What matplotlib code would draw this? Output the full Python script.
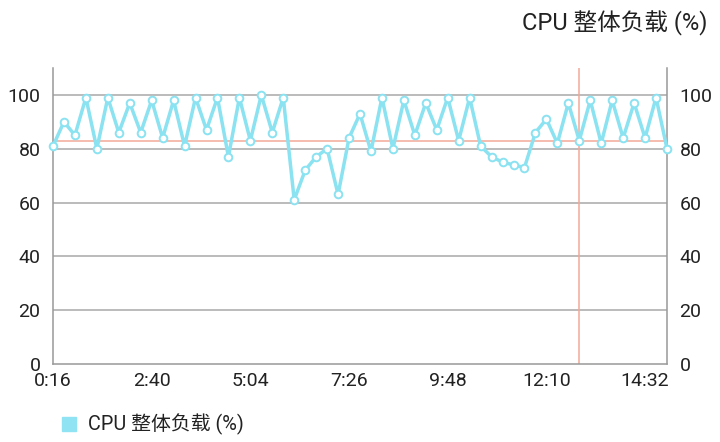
import matplotlib
matplotlib.use('Agg')
import matplotlib.pyplot as plt
from matplotlib.patches import Rectangle

plt.rcParams['font.family'] = ['Roboto', 'Noto Sans CJK SC', 'DejaVu Sans']

# CPU load samples (%), one per sample step
cpu_load = [81, 90, 85, 99, 80, 99, 86, 97, 86, 98,
            84, 98, 81, 99, 87, 99, 77, 99, 83, 100,
            86, 99, 61, 72, 77, 80, 63, 84, 93, 79,
            99, 80, 98, 85, 97, 87, 99, 83, 99, 81,
            77, 75, 74, 73, 86, 91, 82, 97, 83, 98,
            82, 98, 84, 97, 84, 99, 80]
tick_idx = [0, 9, 18, 27, 36, 45, 54]
tick_labels = ['0:16', '2:40', '5:04', '7:26', '9:48', '12:10', '14:32']
y_ticks = [0, 20, 40, 60, 80, 100]
selected = 48  # highlighted sample (crosshair)
title = 'CPU 整体负载 (%)'

LINE = '#8BE2F1'
HIGHLIGHT = '#F2A898'
GRID = '#A8A8A8'

fig = plt.figure(figsize=(7.2, 4.42), dpi=100)
ax = fig.add_axes([53/720, 1 - 364/442, 614/720, 296/442])

x = list(range(len(cpu_load)))
ax.plot(x, cpu_load, color=LINE, lw=2.5, marker='o', ms=5.5,
        mfc='white', mec=LINE, mew=1.4, zorder=3, clip_on=False)

ax.axvline(selected, color=HIGHLIGHT, lw=1.1, zorder=2)
ax.axhline(cpu_load[selected], color=HIGHLIGHT, lw=1.1, zorder=2)

ax.set_xlim(0, len(cpu_load) - 1)
ax.set_ylim(0, 110)
ax.set_yticks(y_ticks)
for v in y_ticks[1:]:
    ax.axhline(v, color=GRID, lw=1.1, zorder=1)

ax.set_xticks(tick_idx)
ax.set_xticklabels(tick_labels)
ax.tick_params(axis='both', length=0, labelsize=14, colors='#222222')
ax.tick_params(axis='x', pad=6)
ax.tick_params(axis='y', pad=9, labelright=True)

for s in ['left', 'right', 'bottom']:
    ax.spines[s].set_color('#999999')
    ax.spines[s].set_linewidth(1.1)
ax.spines['top'].set_visible(False)

fig.text(707/720, 1 - 23/442, title, ha='right', va='center', fontsize=17, color='#222222')

# legend
fig.patches.append(Rectangle((62/720, 1 - 431/442), 14/720, 14/442,
                             transform=fig.transFigure, color='#8FE3F3', figure=fig))
fig.text(88/720, 1 - 424/442, title, ha='left', va='center', fontsize=14.3, color='#222222')

fig.savefig('out.png', dpi=100)
